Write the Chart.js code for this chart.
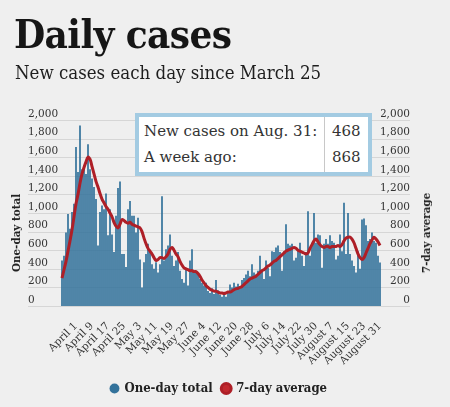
<!DOCTYPE html>
<html>
<head>
<meta charset="utf-8">
<script src="https://cdn.jsdelivr.net/npm/chart.js@4.4.0/dist/chart.umd.min.js"></script>
<style>
  html, body { margin: 0; padding: 0; background: #efefef; }
  #wrap { position: relative; width: 450px; height: 407px; overflow: hidden; color: #1e1e1e; font-family: "DejaVu Serif", serif; }
  #chart { position: absolute; left: 0; top: 0; }
  .title { position: absolute; left: 14px; top: 10px; font: bold 40px "DejaVu Serif Condensed", "DejaVu Serif", serif; letter-spacing: -0.6px; color: #161616; }
  .subtitle { position: absolute; left: 15px; top: 62px; font: 18.5px "DejaVu Serif Condensed", "DejaVu Serif", serif; }
  .axis-title { position: absolute; font: bold 11.5px "DejaVu Serif Condensed", "DejaVu Serif", serif; white-space: nowrap; transform: translate(-50%, -50%) rotate(-90deg); color: #1e1e1e; }
  .info { position: absolute; left: 135px; top: 113px; width: 237px; height: 63px; box-sizing: border-box; border: 4px solid #a3cbe2; background: #fff; font-size: 15px; color: #333; }
  .info .row { position: absolute; left: 5px; }
  .info .val { position: absolute; left: 193px; }
  .info .divider { position: absolute; left: 185px; top: 0; bottom: 0; width: 1px; background: #c8c8c8; }
</style>
</head>
<body>
<div id="wrap">
  <canvas id="chart" width="450" height="407"></canvas>
  <div class="title">Daily cases</div>
  <div class="subtitle">New cases each day since March 25</div>
  <div class="axis-title" style="left:16px; top:233px;">One-day total</div>
  <div class="axis-title" style="left:426px; top:233px;">7-day average</div>
  <div class="info">
    <div class="divider"></div>
    <div class="row" style="top:5px;">New cases on Aug. 31:</div>
    <div class="val" style="top:5px;">468</div>
    <div class="row" style="top:31px;">A week ago:</div>
    <div class="val" style="top:31px;">868</div>
  </div>
</div>
<script>
// data, March 25 to August 31
const monthNames = ['January', 'February', 'March', 'April', 'May', 'June', 'July', 'August', 'September', 'October', 'November', 'December'];
const days = [];
for (let d = new Date(2020, 2, 25); d <= new Date(2020, 7, 31); d.setDate(d.getDate() + 1)) {
    days.push(monthNames[d.getMonth()] + ' ' + d.getDate());
}

const tickLabels = ['April 1', 'April 9', 'April 17', 'April 25', 'May 3', 'May 11', 'May 19', 'May 27',
    'June 4', 'June 12', 'June 20', 'June 28', 'July 6', 'July 14', 'July 22', 'July 30',
    'August 7', 'August 15', 'August 23', 'August 31'];

const yTicks = [0, 200, 400, 600, 800, 1000, 1200, 1400, 1600, 1800, 2000];

const oneDayTotal = [
    490, 540, 790, 990, 830, 1010, 1100, 1710, 1440, 1940,
    1470, 1510, 1420, 1740, 1470, 1370, 1280, 1150, 650, 1010,
    1080, 1040, 1210, 760, 1040, 770, 580, 970, 1270, 1340,
    560, 560, 420, 1040, 1130, 970, 970, 790, 950, 500,
    200, 470, 560, 670, 580, 450, 400, 470, 360, 450,
    1180, 490, 610, 650, 770, 540, 430, 490, 580, 380,
    290, 250, 400, 220, 490, 610, 380, 360, 340, 290,
    250, 220, 250, 160, 140, 190, 130, 280, 170, 120,
    100, 150, 100, 160, 230, 200, 250, 210, 240, 190,
    280, 300, 340, 380, 320, 450, 360, 340, 380, 540,
    380, 290, 490, 410, 320, 590, 580, 630, 650, 580,
    380, 590, 880, 670, 650, 670, 490, 520, 590, 680,
    540, 430, 580, 1020, 540, 680, 1000, 680, 770, 760,
    410, 670, 720, 670, 760, 700, 680, 500, 540, 770,
    590, 1110, 560, 1000, 560, 490, 430, 360, 590, 400,
    930, 940, 868, 700, 720, 790, 700, 680, 540, 468
];

const sevenDayAverage = [
    300, 390, 480, 590, 700, 820, 960, 1100, 1200, 1320,
    1420, 1490, 1550, 1600, 1580, 1500, 1420, 1340, 1280, 1210,
    1150, 1110, 1070, 1040, 1000, 960, 900, 860, 840, 880,
    930, 920, 900, 890, 900, 880, 870, 860, 850, 840,
    800, 730, 670, 620, 590, 560, 520, 490, 500, 520,
    520, 510, 530, 560, 610, 630, 600, 560, 530, 480,
    440, 410, 400, 390, 380, 380, 370, 370, 350, 320,
    280, 250, 220, 200, 180, 170, 160, 160, 150, 140,
    140, 135, 140, 150, 150, 160, 175, 185, 190, 200,
    210, 230, 250, 270, 290, 300, 310, 320, 340, 360,
    380, 390, 410, 430, 440, 460, 480, 490, 510, 530,
    550, 570, 590, 600, 610, 620, 630, 620, 600, 590,
    580, 570, 560, 570, 620, 660, 700, 720, 690, 660,
    640, 630, 640, 640, 630, 640, 640, 640, 650, 640,
    660, 700, 730, 740, 740, 720, 680, 620, 560, 520,
    500, 520, 570, 620, 670, 710, 740, 720, 690, 650
];

// grid lines run under the tick labels, from the left labels to the right ones
const fullGrid = {
    id: 'fullGrid',
    beforeDraw(chart) {
        const { ctx } = chart;
        const y = chart.scales.y;
        const x0 = y.left;
        const x1 = chart.scales.y1.right;
        ctx.save();
        ctx.strokeStyle = '#d6d6d6';
        ctx.lineWidth = 1;
        yTicks.forEach(v => {
            const py = Math.round(y.getPixelForValue(v)) + 0.5;
            ctx.beginPath();
            ctx.moveTo(x0, py);
            ctx.lineTo(x1, py);
            ctx.stroke();
        });
        ctx.restore();
    }
};

const tickFont = { family: '"DejaVu Serif", serif', size: 10.5 };

const yAxis = (position, width) => ({
    position: position,
    min: 0,
    max: 2000,
    grid: { display: false },
    border: { display: false },
    ticks: {
        stepSize: 200,
        crossAlign: 'far',
        labelOffset: -6,
        padding: 2,
        color: '#333',
        font: tickFont
    },
    afterFit: (scale) => { scale.width = width; }
});

new Chart(document.getElementById('chart'), {
    data: {
        labels: days,
        datasets: [
            {
                type: 'line',
                label: '7-day average',
                data: sevenDayAverage,
                yAxisID: 'y1',
                borderColor: '#ae1f27',
                backgroundColor: '#c2282e',
                borderWidth: 3,
                pointRadius: 0,
                tension: 0.35,
                order: 0
            },
            {
                type: 'bar',
                label: 'One-day total',
                data: oneDayTotal,
                yAxisID: 'y',
                backgroundColor: '#33729b',
                borderColor: '#33729b',
                borderWidth: 0,
                barPercentage: 0.85,
                categoryPercentage: 1.0,
                order: 1
            }
        ]
    },
    options: {
        responsive: false,
        animation: false,
        layout: { padding: { left: 28, right: 40, top: 120, bottom: 2 } },
        scales: {
            x: {
                grid: { display: false },
                border: { display: false },
                ticks: {
                    autoSkip: false,
                    minRotation: 45,
                    maxRotation: 45,
                    padding: 6,
                    color: '#333',
                    font: tickFont,
                    callback: function (value) {
                        const label = this.getLabelForValue(value);
                        return tickLabels.includes(label) ? label : null;
                    }
                },
                afterFit: (scale) => { scale.height = 66; }
            },
            y: yAxis('left', 33),
            y1: yAxis('right', 29)
        },
        plugins: {
            legend: {
                position: 'bottom',
                reverse: true,
                labels: {
                    usePointStyle: true,
                    pointStyle: 'circle',
                    boxHeight: 7,
                    boxWidth: 7,
                    padding: 10,
                    color: '#222',
                    font: { family: '"DejaVu Serif Condensed", "DejaVu Serif", serif', size: 13, weight: 'bold' }
                }
            },
            tooltip: { enabled: false }
        }
    },
    plugins: [fullGrid]
});
</script>
</body>
</html>
